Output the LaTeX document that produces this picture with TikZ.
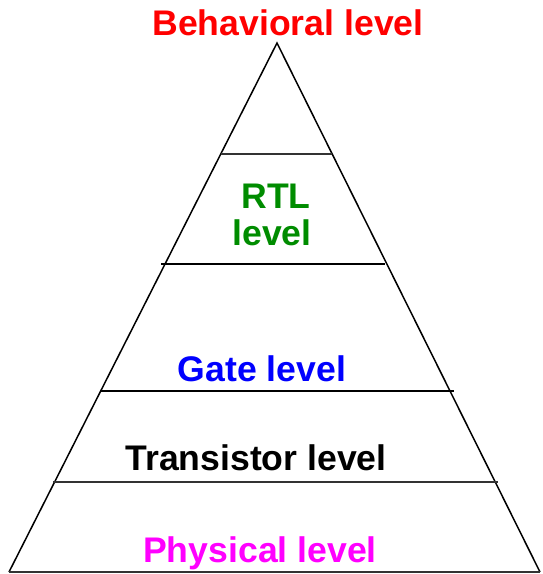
\documentclass[tikz,border=0pt]{standalone}
\usepackage{fontspec}
\setmainfont{Liberation Sans}
\definecolor{pmag}{RGB}{255,0,255}
\definecolor{pred}{RGB}{255,0,0}
\definecolor{pblue}{RGB}{0,0,255}
\definecolor{pgreen}{RGB}{0,140,0}
\begin{document}
\begin{tikzpicture}[x=1pt,y=-1pt,
  lvl/.style={font=\fontsize{35.6}{36}\selectfont\bfseries, anchor=base, inner sep=0pt},
  edge/.style={draw=black, line width=1.5pt},
  sep/.style={draw=black, line width=1.3pt}]
\useasboundingbox (0,0) rectangle (542,574);
\coordinate (apex) at (277,43);
\coordinate (bl) at (9,572);
\coordinate (br) at (540,572);
\draw[edge, line join=miter] (bl) -- (apex) -- (br);
\draw[edge, line width=1.8pt, draw=black!80] (bl) -- (br);
\coordinate (a1) at (221,154); \coordinate (b1) at (332,154);
\coordinate (a2) at (161,264); \coordinate (b2) at (385,264);
\coordinate (a3) at (100,391); \coordinate (b3) at (454,391);
\coordinate (a4) at (53,482);  \coordinate (b4) at (498,482);
\draw[sep, draw=black!80] (a1) -- (b1);
\draw[sep] (a2) -- (b2);
\draw[sep] (a3) -- (b3);
\draw[sep, draw=black!80] (a4) -- (b4);
\node[lvl, text=pred] (beh) at (288,35) {Behavioral level};
\node[lvl, text=pgreen] (rtl) at (276,208) {RTL};
\node[lvl, text=pgreen] (rtl2) at (272,245) {level};
\node[lvl, text=pblue] (gate) at (262,381) {Gate level};
\node[lvl, text=black] (trans) at (256,470) {Transistor level};
\node[lvl, text=pmag] (phys) at (260,562) {Physical level};
\end{tikzpicture}
\end{document}
